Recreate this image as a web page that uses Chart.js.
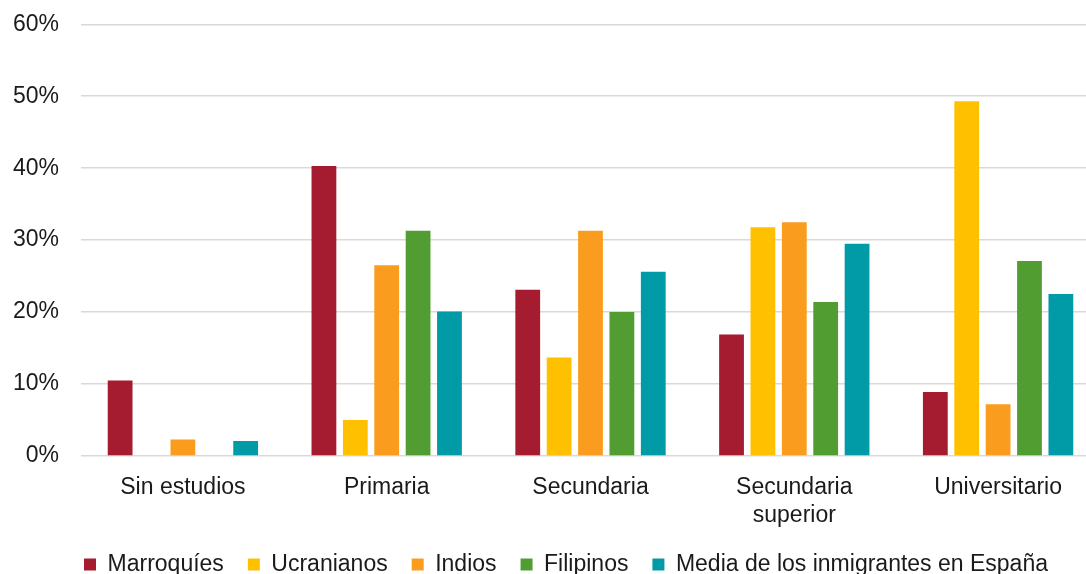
<!DOCTYPE html>
<html lang="es">
<head>
<meta charset="utf-8">
<title>Nivel de estudios</title>
<script src="https://cdn.jsdelivr.net/npm/chart.js@4/dist/chart.umd.min.js"></script>
<style>
    html, body {
        margin: 0;
        padding: 0;
        background: #ffffff;
        overflow: hidden;
    }

    /* the plot area runs a little past the right edge of the picture */
    .chart-box {
        width: 1100px;
        height: 574px;
        position: relative;
    }
</style>
</head>
<body>

<div class="chart-box">
    <canvas id="educationChart"></canvas>
</div>

<script>

/* ====================================
   DATA
==================================== */

const categories = [
    "Sin estudios",
    "Primaria",
    "Secundaria",
    ["Secundaria", "superior"],
    "Universitario"
];

const marroquies = [10.5, 40.3, 23.1, 16.9, 8.9];

const ucranianos = [0, 5.0, 13.7, 31.8, 49.3];

const indios = [2.3, 26.5, 31.3, 32.5, 7.2];

const filipinos = [0, 31.3, 20.0, 21.4, 27.1];

const mediaInmigrantes = [2.1, 20.1, 25.6, 29.5, 22.5];

const yTicks = [0, 10, 20, 30, 40, 50, 60];

/* ====================================
   CHART
==================================== */

document.addEventListener("DOMContentLoaded", () => {

    createEducationChart();

});

function makeDataset(label, data, color) {

    return {
        label: label,
        data: data,
        backgroundColor: color,
        borderWidth: 0,
        categoryPercentage: 0.77,
        barPercentage: 0.79
    };

}

// nudge the legend row a bit to the right, like the original
const legendShift = {
    id: "legendShift",
    afterLayout(chart) {
        if (!chart.legend) return;
        chart.legend.left += 16;
        chart.legend.right += 16;
    }
};

function createEducationChart() {

    const canvas =
        document.getElementById("educationChart");

    if (!canvas) return;

    const fontFamily =
        "'Liberation Sans', Arial, sans-serif";

    new Chart(canvas, {

        type: "bar",

        data: {

            labels: categories,

            datasets: [
                makeDataset("Marroquíes", marroquies, "#a51b30"),
                makeDataset("Ucranianos", ucranianos, "#ffc000"),
                makeDataset("Indios", indios, "#fa9d1e"),
                makeDataset("Filipinos", filipinos, "#529d31"),
                makeDataset("Media de los inmigrantes en España", mediaInmigrantes, "#009ba6")
            ]

        },

        plugins: [legendShift],

        options: {

            responsive: true,
            maintainAspectRatio: false,
            animation: false,

            layout: {
                padding: {
                    top: 24,
                    left: 0,
                    right: 0,
                    bottom: -12
                }
            },

            plugins: {

                legend: {
                    position: "bottom",
                    labels: {
                        color: "#1a1a1a",
                        boxWidth: 12,
                        boxHeight: 12,
                        padding: 24,
                        font: {
                            family: fontFamily,
                            size: 23
                        }
                    }
                },

                tooltip: {
                    enabled: false
                }

            },

            scales: {

                x: {
                    grid: {
                        display: false,
                        drawTicks: false
                    },
                    border: {
                        display: false
                    },
                    ticks: {
                        color: "#1a1a1a",
                        padding: 18,
                        maxRotation: 0,
                        autoSkip: false,
                        font: {
                            family: fontFamily,
                            size: 23
                        }
                    },
                    afterFit: scale => {
                        scale.height = 73;
                    }
                },

                y: {
                    min: 0,
                    max: 60,
                    afterBuildTicks: scale => {
                        scale.ticks = yTicks.map(v => ({ value: v }));
                    },
                    grid: {
                        color: "#d9d9d9",
                        lineWidth: 1.5,
                        drawTicks: false
                    },
                    border: {
                        display: false
                    },
                    ticks: {
                        color: "#1a1a1a",
                        padding: 22,
                        font: {
                            family: fontFamily,
                            size: 23,
                            lineHeight: 0.2
                        },
                        callback: value => value + "%"
                    },
                    afterFit: scale => {
                        scale.width = 81;
                    }
                }

            }

        }

    });

}

</script>
</body>
</html>
